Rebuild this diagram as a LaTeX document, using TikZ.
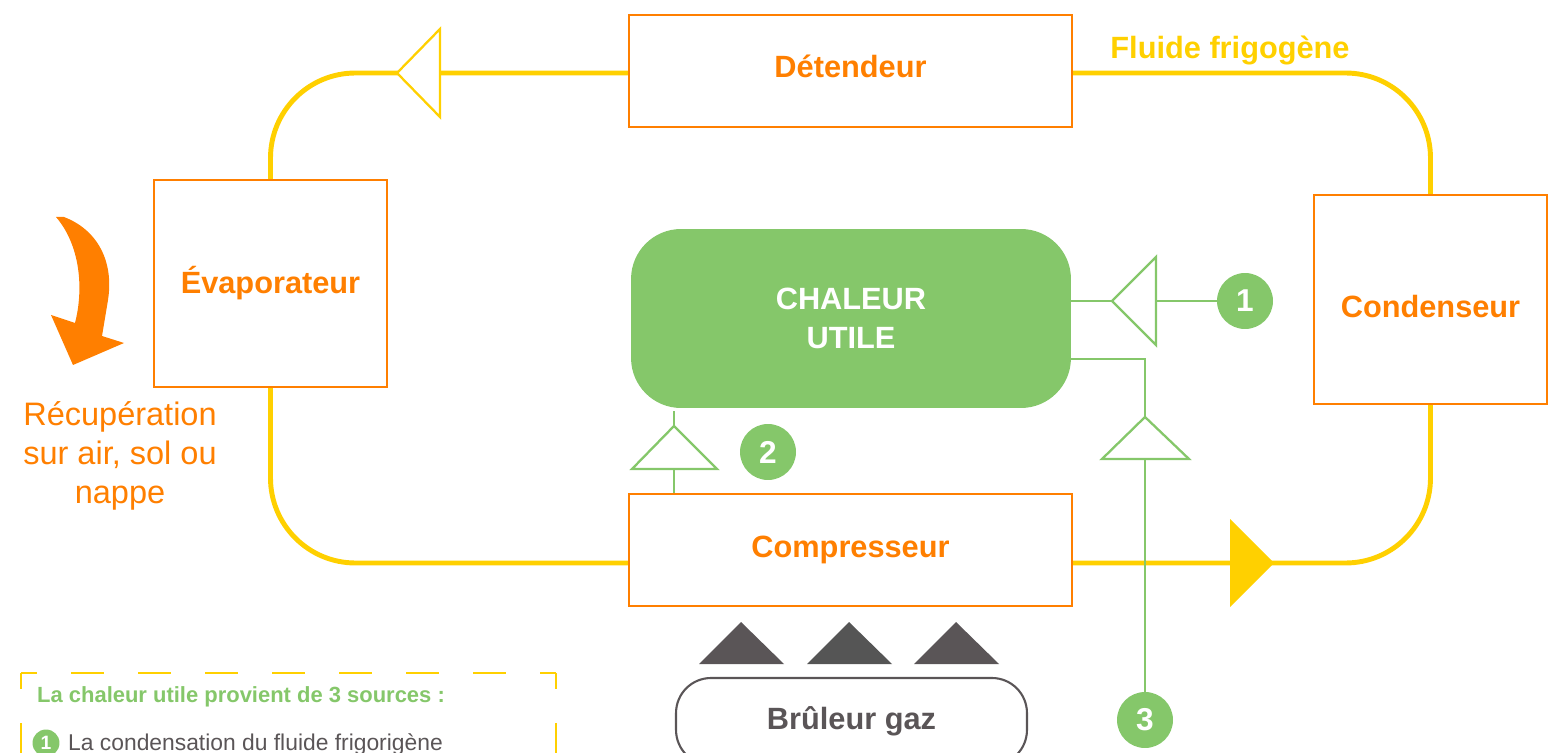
\documentclass[tikz,border=0pt]{standalone}
\usepackage{fontspec}
\setmainfont{Liberation Sans}
\usetikzlibrary{positioning}

\definecolor{orangeHP}{HTML}{FF7F00}
\definecolor{jaune}{HTML}{FFD000}
\definecolor{vert}{HTML}{85C76A}
\definecolor{gris}{HTML}{5A5557}
\definecolor{grisfonce}{HTML}{555555}

\begin{document}
\begin{tikzpicture}[x=0.02cm,y=-0.02cm,
  organe/.style={draw=orangeHP, line width=1.4pt, text=orangeHP, inner sep=0pt,
    font=\bfseries\fontsize{17.5}{21}\selectfont, minimum width=8.86cm, minimum height=2.24cm},
  fluide/.style={draw=jaune, line width=2.8pt, rounded corners=1.7cm},
  apport/.style={draw=vert, line width=1.4pt},
  fleche/.style={draw=vert, fill=white, line width=1.3pt},
  pointe/.style={draw=jaune, fill=white, line width=1.3pt},
  pastille/.style={circle, fill=vert, text=white, inner sep=0pt, minimum size=1.12cm,
    font=\bfseries\fontsize{18}{18}\selectfont},
  legende/.style={draw=jaune, line width=1.5pt, dash pattern=on 0.66cm off 0.68cm, dash phase=0.33cm}]

\useasboundingbox (0,0) rectangle (1553,753);
\clip (0,0) rectangle (1553,753);

% organes du circuit
\node[organe, text height=13pt, text depth=5.6pt] (detendeur) at (850.5,71) {Détendeur};
\node[organe] (compresseur) at (850.5,550) {Compresseur};
\node[organe, minimum width=4.66cm, minimum height=4.14cm] (evaporateur) at (270.5,283.5) {Évaporateur};
\node[organe, minimum width=4.66cm, minimum height=4.18cm, text height=20.5pt, text depth=0pt] (condenseur)
  at (1430.5,299.5) {Condenseur};

\node[fill=vert, rounded corners=1cm, minimum width=8.8cm, minimum height=3.58cm, inner sep=0pt,
  text=white, align=center, font=\bfseries\fontsize{17.5}{22}\selectfont] (chaleur) at (851,318.5) {CHALEUR\\UTILE};

\node[draw=gris, line width=1.2pt, rounded corners=0.7cm, minimum width=7.02cm, minimum height=1.74cm,
  text=gris, font=\bfseries\fontsize{17.5}{21}\selectfont] (bruleur) at (851.5,721.5) {Brûleur gaz};

\foreach \cx/\col in {741/gris, 849/grisfonce, 956/gris}
  \fill[\col] (\cx-42,664) -- (\cx,622) -- (\cx+43,664) -- cycle;

% circuit du fluide
\draw[fluide] ([yshift=-0.04cm]detendeur.west) -| (evaporateur.north);
\draw[fluide] (evaporateur.south) |- ([yshift=-0.26cm]compresseur.west);
\draw[fluide] ([yshift=-0.26cm]compresseur.east) -| (condenseur.south);
\draw[fluide] (condenseur.north) |- ([yshift=-0.04cm]detendeur.east);

\draw[pointe] (397,73) -- (440,29) -- (440,117) -- cycle;
\fill[jaune] (1274,563) -- (1230,519) -- (1230,607) -- cycle;

\node[text=jaune, font=\bfseries\fontsize{17.5}{21}\selectfont] (fluidelabel) at (1230,50) {Fluide frigogène};

% apports de chaleur
\node[pastille] (n1) at (1245,301) {1};
\node[pastille] (n2) at (768,452) {2};
\node[pastille] (n3) at (1145,720) {3};

\coordinate (p1) at (1112,301);
\coordinate (b1) at (1156,301);
\draw[apport] (n1) -- (b1);
\draw[apport] (p1) -- (p1 -| chaleur.east);
\draw[fleche] (p1) -- (1156,257) -- (1156,345) -- cycle;

\coordinate (p2) at (674,426);
\coordinate (b2) at (674,469);
\draw[apport] ([yshift=-0.06cm]p2 |- chaleur.south) -- (p2);
\draw[apport] (b2) -- (b2 |- compresseur.north);
\draw[fleche] (p2) -- (632,469) -- (717,469) -- cycle;

\coordinate (p3) at (1145,417);
\coordinate (b3) at (1145,459);
\draw[apport] ([yshift=-0.81cm]chaleur.east) -| (p3);
\draw[apport] (b3) -- (n3);
\draw[fleche] (p3) -- (1102,459) -- (1189,459) -- cycle;

% recuperation
\fill[orangeHP] (56,217) -- (64,217) .. controls (98,230) and (114,262) .. (108,300) -- (102,336)
  -- (124,343) -- (73,365) -- (51,315) -- (75,323) .. controls (84,288) and (80,245) .. (56,217) -- cycle;
\node[text=orangeHP, align=center, font=\fontsize{18.5}{22}\selectfont] (recup) at (120,456)
  {Récupération\\sur air, sol ou\\nappe};

% legende
\draw[legende] (21,673) -- (556,673);
\draw[legende] (21,673) -- (21,800);
\draw[legende] (556,673) -- (556,800);
\node[anchor=base west, text=vert, font=\bfseries\fontsize{12.5}{15}\selectfont] (titre) at (31,702)
  {La chaleur utile provient de 3 sources :};
\node[pastille, minimum size=0.54cm, font=\bfseries\fontsize{11}{11}\selectfont] (l1) at (46,743) {1};
\node[anchor=base west, text=gris, font=\fontsize{13}{15}\selectfont] (source1) at (62,750)
  {La condensation du fluide frigorigène};

\end{tikzpicture}
\end{document}
